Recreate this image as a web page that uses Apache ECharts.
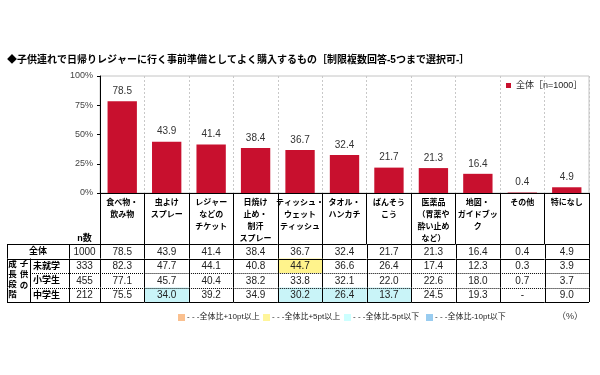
<!DOCTYPE html>
<html>
<head>
<meta charset="utf-8">
<script src="https://cdn.jsdelivr.net/npm/echarts@6/dist/echarts.min.js"></script>
<style>
  html, body { margin: 0; background: #fff; }
  #chart { width: 600px; height: 375px; }
</style>
</head>
<body>
<div id="chart"></div>
<script>
const categories = ['食べ物・\n飲み物', '虫よけ\nスプレー', 'レジャー\nなどの\nチケット', '日焼け\n止め・\n制汗\nスプレー',
  'ティッシュ・\nウェット\nティッシュ', 'タオル・\nハンカチ', 'ばんそう\nこう', '医薬品\n（胃薬や\n酔い止め\nなど）',
  '地図・\nガイドブッ\nク', 'その他', '特になし'];
const overall = [78.5, 43.9, 41.4, 38.4, 36.7, 32.4, 21.7, 21.3, 16.4, 0.4, 4.9];
const preschool = [82.3, 47.7, 44.1, 40.8, 44.7, 36.6, 26.4, 17.4, 12.3, 0.3, 3.9];
const elementary = [77.1, 45.7, 40.4, 38.2, 33.8, 32.1, 22.0, 22.6, 18.0, 0.7, 3.7];
const juniorHigh = [75.5, 34.0, 39.2, 34.9, 30.2, 26.4, 13.7, 24.5, 19.3, null, 9.0];
const rowLabels = ['全体', '未就学', '小学生', '中学生'];
const nCounts = [1000, 333, 455, 212];
const yTicks = [0, 25, 50, 75, 100];

const tableRows = [overall, preschool, elementary, juniorHigh];
const FONT = "'Liberation Sans', 'Noto Sans CJK JP', sans-serif";
const seriesName = '全体［n=1000］';

// highlight colour for a cell compared with the overall row
function cellColor(ri, ci) {
  const v = tableRows[ri][ci];
  if (ri === 0 || v == null) return '#fff';
  const d = v - overall[ci];
  if (d >= 10) return '#FAC08F';
  if (d >= 5) return '#FFF38C';
  if (d <= -10) return '#9CC8EE';
  if (d <= -5) return '#C9F4F8';
  return '#fff';
}

const px = v => Math.round(v) + 0.5;
function hLine(x1, x2, y, dotted) {
  return { type: 'line', shape: { x1: x1, y1: px(y), x2: x2, y2: px(y) },
    style: { stroke: '#000', lineWidth: 1, lineDash: dotted ? [1, 1] : null } };
}
function vLine(x, y1, y2) {
  return { type: 'line', shape: { x1: px(x), y1: y1, x2: px(x), y2: y2 },
    style: { stroke: '#000', lineWidth: 1 } };
}

const cellData = [];
for (let r = 0; r < tableRows.length; r++) {
  for (let c = 0; c < categories.length; c++) cellData.push([c, r]);
}
const nData = nCounts.map((n, r) => [0, r]);

function renderCell(params, api) {
  const ci = api.value(0), ri = api.value(1);
  const c = api.coord([ci, ri]);
  const s = api.size([1, 1]);
  const x0 = c[0] - s[0] / 2, x1 = c[0] + s[0] / 2;
  const y0 = c[1] - s[1] / 2, y1 = c[1] + s[1] / 2;
  const v = tableRows[ri][ci];
  const kids = [
    { type: 'rect', shape: { x: x0, y: y0, width: s[0], height: s[1] }, style: { fill: cellColor(ri, ci) } },
    { type: 'text', style: { text: v == null ? '-' : v.toFixed(1), x: c[0], y: c[1] + 0.5,
      align: 'center', verticalAlign: 'middle', fontSize: 10, fontFamily: FONT, fill: '#222' } },
    vLine(x0, y0, y1), vLine(x1, y0, y1),
    hLine(x0, x1, y0, ri >= 2)
  ];
  if (ri === 3) kids.push(hLine(x0, x1, y1, false));
  return { type: 'group', children: kids };
}

function renderN(params, api) {
  const ri = api.value(1);
  const c = api.coord([0, ri]);
  const s = api.size([1, 1]);
  const x0 = c[0] - s[0] / 2, x1 = c[0] + s[0] / 2;
  const y0 = c[1] - s[1] / 2, y1 = c[1] + s[1] / 2;
  const left = 7, split = 30;
  const kids = [
    { type: 'text', style: { text: String(nCounts[ri]), x: c[0], y: c[1] + 0.5, align: 'center',
      verticalAlign: 'middle', fontSize: 10, fontFamily: FONT, fill: '#222' } },
    vLine(x0, y0, y1), vLine(left, y0, y1),
    hLine(ri >= 2 ? split : left, x1, y0, ri >= 2)
  ];
  if (ri === 0) {
    kids.push({ type: 'text', style: { text: rowLabels[0], x: (left + x0) / 2, y: c[1] + 0.5, align: 'center',
      verticalAlign: 'middle', fontSize: 9, fontWeight: 'bold', fontFamily: FONT, fill: '#000' } });
    kids.push({ type: 'text', style: { text: 'n数', x: c[0], y: y0 - 5, align: 'center',
      verticalAlign: 'middle', fontSize: 9, fontWeight: 'bold', fontFamily: FONT, fill: '#000' } });
  } else {
    kids.push(vLine(split, y0, y1));
    kids.push({ type: 'text', style: { text: rowLabels[ri], x: split + 3, y: c[1] + 0.5, align: 'left',
      verticalAlign: 'middle', fontSize: 9, fontWeight: 'bold', fontFamily: FONT, fill: '#000' } });
  }
  if (ri === 3) kids.push(hLine(left, x1, y1, false));
  if (ri === 2) {
    kids.push({ type: 'text', style: { text: '成\n長\n段\n階', x: 12.5, y: c[1] - 1, align: 'center',
      verticalAlign: 'middle', fontSize: 8.5, lineHeight: 10, fontWeight: 'bold', fontFamily: FONT, fill: '#000' } });
    kids.push({ type: 'text', style: { text: '子\n供\nの', x: 24, y: c[1] - 6, align: 'center',
      verticalAlign: 'middle', fontSize: 8.5, lineHeight: 11, fontWeight: 'bold', fontFamily: FONT, fill: '#000' } });
  }
  return { type: 'group', children: kids };
}

const keyItems = [
  { color: '#FAC08F', text: '- - -全体比+10pt以上', x: 178 },
  { color: '#FFF59A', text: '- - -全体比+5pt以上', x: 263 },
  { color: '#CCFFFF', text: '- - -全体比-5pt以下', x: 344 },
  { color: '#99CCF0', text: '- - -全体比-10pt以下', x: 426 }
];
const keyGraphics = [];
keyItems.forEach(k => {
  keyGraphics.push({ type: 'rect', left: k.x, top: 314, shape: { width: 7, height: 7 }, style: { fill: k.color } });
  keyGraphics.push({ type: 'text', left: k.x + 9, top: 312.5, style: { text: k.text, fontSize: 8, fontFamily: FONT, fill: '#222' } });
});
keyGraphics.push({ type: 'text', left: 557, top: 312, style: { text: '（%）', fontSize: 9, fontFamily: FONT, fill: '#333' } });

const chart = echarts.init(document.getElementById('chart'));
chart.setOption({
  animation: false,
  textStyle: { fontFamily: FONT },
  title: {
    text: '◆子供連れで日帰りレジャーに行く事前準備としてよく購入するもの［制限複数回答-5つまで選択可-］',
    left: 7, top: 55, padding: 0,
    textStyle: { fontSize: 10, fontWeight: 'bold', color: '#000', fontFamily: FONT }
  },
  legend: {
    data: [seriesName], left: 506, top: 81, padding: 0, icon: 'rect', itemWidth: 5, itemHeight: 5,
    textStyle: { fontSize: 9, color: '#222', fontFamily: FONT }
  },
  grid: [
    { left: 100, top: 76, width: 489, height: 117, show: true, borderColor: '#c4c4c4', borderWidth: 1 },
    { left: 100, top: 244, width: 489, height: 58 },
    { left: 69, top: 244, width: 31, height: 58 }
  ],
  xAxis: [
    { type: 'category', gridIndex: 0, data: categories,
      axisLine: { lineStyle: { color: '#000', width: 1 } },
      axisTick: { show: true, interval: 0, length: 51, lineStyle: { color: '#000' } },
      axisLabel: { interval: 0, fontSize: 8, fontWeight: 'bold', lineHeight: 12, margin: 4, color: '#000', fontFamily: FONT },
      splitLine: { show: true, interval: 0, lineStyle: { color: '#c8c8c8', type: [2, 2] } } },
    { type: 'category', gridIndex: 1, data: categories, show: false },
    { type: 'category', gridIndex: 2, data: ['n'], show: false }
  ],
  yAxis: [
    { type: 'value', gridIndex: 0, min: yTicks[0], max: yTicks[yTicks.length - 1], interval: 25,
      axisLine: { show: true, lineStyle: { color: '#000' } },
      axisTick: { show: true, length: 3, lineStyle: { color: '#000' } },
      axisLabel: { formatter: '{value}%', fontSize: 9, color: '#444', margin: 7, fontFamily: FONT },
      splitLine: { show: false } },
    { type: 'category', gridIndex: 1, data: rowLabels, inverse: true, show: false },
    { type: 'category', gridIndex: 2, data: rowLabels, inverse: true, show: false }
  ],
  series: [
    { name: seriesName, type: 'bar', xAxisIndex: 0, yAxisIndex: 0, data: overall, barWidth: '66%',
      itemStyle: { color: '#C8102E' },
      label: { show: true, position: 'top', distance: 5, fontSize: 10, color: '#333', fontFamily: FONT } },
    { type: 'custom', xAxisIndex: 1, yAxisIndex: 1, data: cellData, renderItem: renderCell, silent: true },
    { type: 'custom', xAxisIndex: 2, yAxisIndex: 2, data: nData, renderItem: renderN, silent: true }
  ],
  graphic: keyGraphics
});
</script>
</body>
</html>
